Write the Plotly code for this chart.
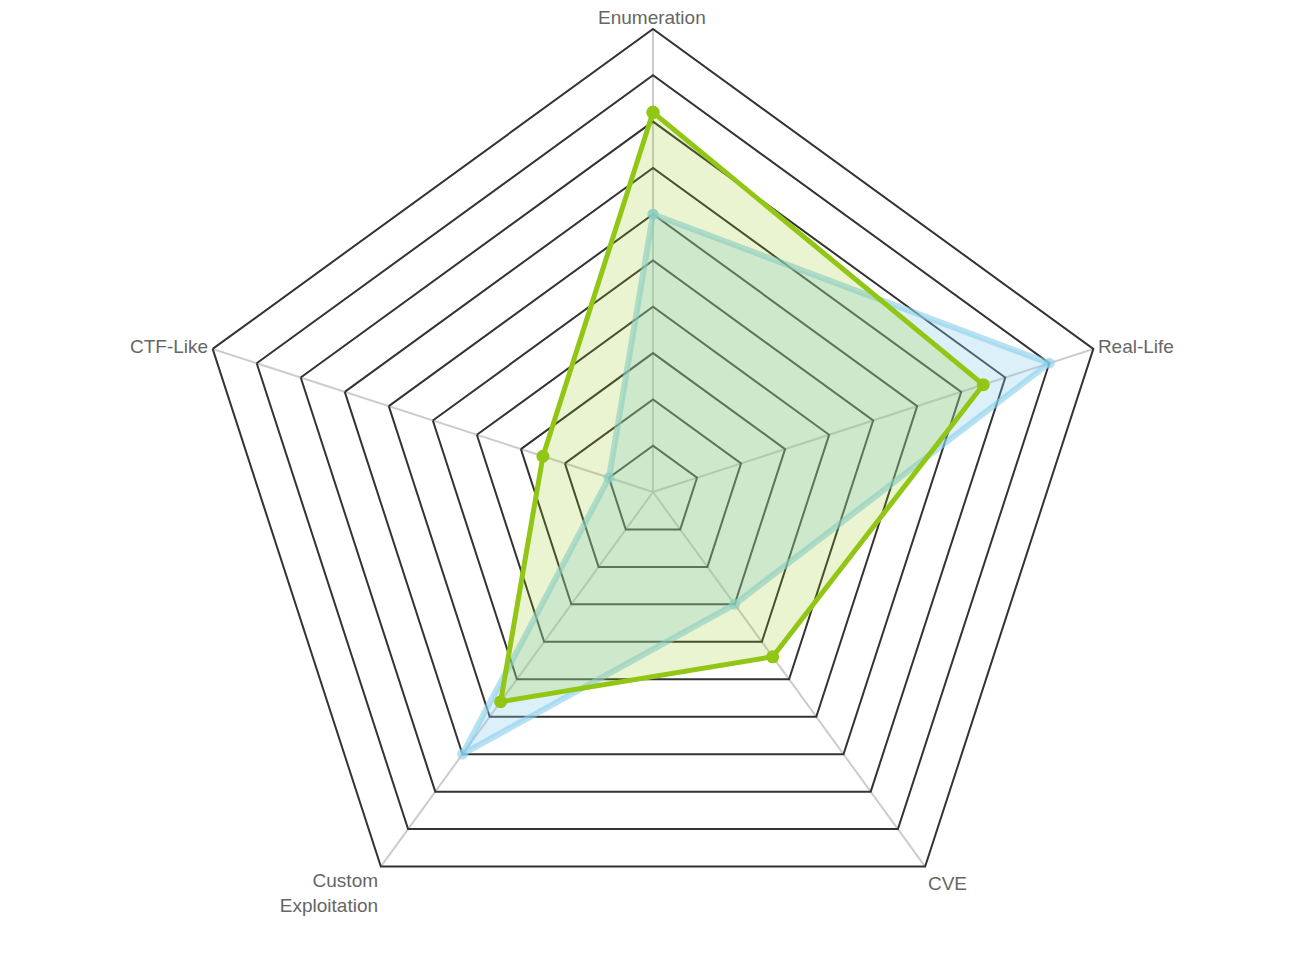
import plotly.graph_objects as go

categories = ['Enumeration', 'Real-Life', 'CVE', 'Custom<br>Exploitation', 'CTF-Like']
tick_labels = ['', 'Real-Life', 'CVE', 'Custom<br>Exploitation', 'CTF-Like']
series_blue = [6.0, 9.0, 3.0, 7.0, 1.0]
series_green = [8.2, 7.5, 4.4, 5.6, 2.5]


def closed(vals):
    return vals + vals[:1]


fig = go.Figure()

# Blue series (drawn first, underneath)
fig.add_trace(go.Scatterpolar(
    r=closed(series_blue),
    theta=closed(categories),
    mode='lines+markers',
    fill='toself',
    fillcolor='rgba(135,206,235,0.3)',
    line=dict(color='rgba(135,206,235,0.6)', width=6),
    marker=dict(size=11, color='rgba(135,206,235,0.6)'),
    name='Blue'
))

# Green series
fig.add_trace(go.Scatterpolar(
    r=closed(series_green),
    theta=closed(categories),
    mode='lines+markers',
    fill='toself',
    fillcolor='rgba(148,199,20,0.2)',
    line=dict(color='#92c614', width=5),
    marker=dict(size=13, color='#92c614'),
    name='Green'
))

# top label placed as annotation so it stays inside the page
fig.add_annotation(
    text=categories[0],
    xref='paper', yref='paper',
    x=0.5061, y=1.0227,
    xshift=-8, yshift=3,
    xanchor='center', yanchor='top',
    showarrow=False,
    font=dict(size=19, color='#666'),
)

fig.update_layout(
    width=1302,
    height=954,
    paper_bgcolor='white',
    showlegend=False,
    margin=dict(l=74, r=86, t=21, b=7),
    font=dict(family='Liberation Sans, Arial, sans-serif', size=19, color='#666'),
    polar=dict(
        bgcolor='white',
        gridshape='linear',
        radialaxis=dict(
            range=[0, 10],
            dtick=1,
            showticklabels=False,
            ticks='',
            showline=False,
            gridcolor='#333',
            gridwidth=2,
        ),
        angularaxis=dict(
            rotation=90,
            direction='clockwise',
            tickmode='array',
            tickvals=categories,
            ticktext=tick_labels,
            gridcolor='#cccccc',
            gridwidth=1.5,
            linecolor='#333',
            linewidth=2,
            ticks='',
        ),
    ),
)

fig.write_html("out.html")
